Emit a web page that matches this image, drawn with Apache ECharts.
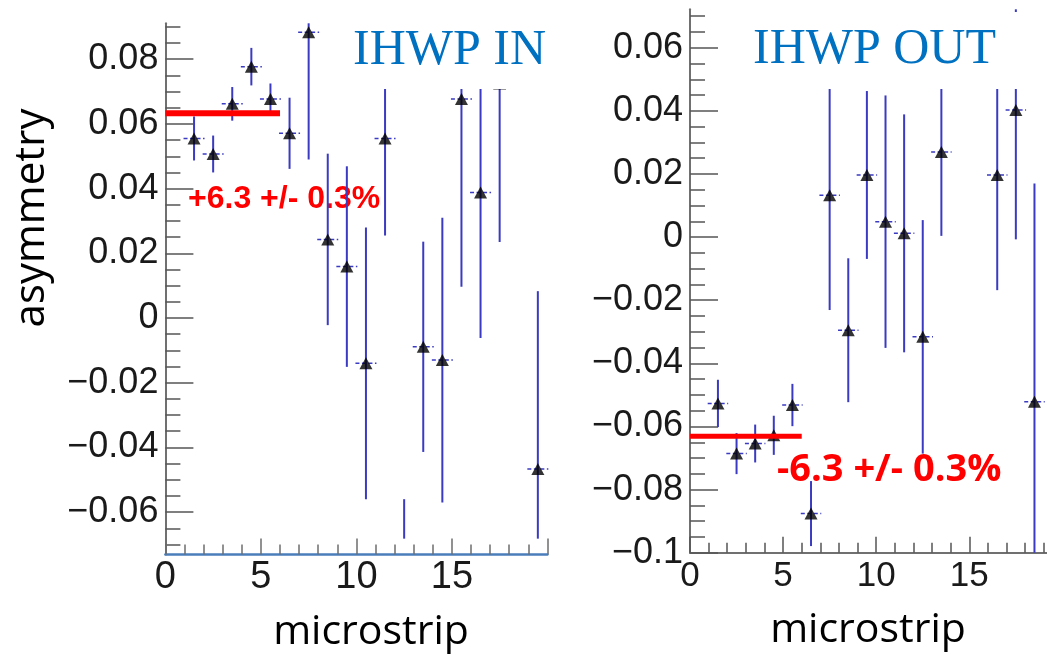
<!DOCTYPE html>
<html>
<head>
<meta charset="utf-8">
<script src="https://cdn.jsdelivr.net/npm/echarts@6/dist/echarts.min.js"></script>
<style>
  html, body { margin: 0; background: #fff; }
  #chart { width: 1047px; height: 656px; }
</style>
</head>
<body>
<div id="chart"></div>
<script>
// IHWP IN panel: microstrip bin centre, asymmetry, error
const inX   = [1.5, 2.5, 3.5, 4.5, 5.5, 6.5, 7.5, 8.5, 9.5, 10.5, 11.5, 12.5, 13.5, 14.5, 15.5, 16.5, 17.5, 19.5];
const inY   = [0.0555, 0.0507, 0.0662, 0.0777, 0.0677, 0.0571, 0.0883, 0.0243, 0.0159, -0.014, 0.0555, -0.092, -0.0089, -0.013, 0.0677, 0.0388, 0.0725, -0.0467];
const inErr = [0.0068, 0.0057, 0.0052, 0.0058, 0.0048, 0.011, 0.0393, 0.0265, 0.031, 0.042, 0.030, 0.036, 0.0325, 0.044, 0.058, 0.045, 0.049, 0.055];

// IHWP OUT panel
const outX   = [1.5, 2.5, 3.5, 4.5, 5.5, 6.5, 7.5, 8.5, 9.5, 10.5, 11.5, 12.5, 13.5, 16.5, 17.5, 18.5];
const outY   = [-0.0527, -0.0686, -0.0654, -0.0628, -0.0532, -0.0876, 0.0133, -0.0295, 0.0197, 0.0049, 0.0012, -0.0316, 0.027, 0.0197, 0.0403, -0.0522];
const outErr = [0.0075, 0.0065, 0.006, 0.0062, 0.0067, 0.0103, 0.0364, 0.0228, 0.0266, 0.040, 0.0377, 0.037, 0.0266, 0.0365, 0.041, 0.0692];

// fitted averages over strips 0..6
const fitIn  = 0.0633;
const fitOut = -0.0631;
const fitRange = [0, 6];

const inTicks  = [-0.06, -0.04, -0.02, 0, 0.02, 0.04, 0.06, 0.08];
const outTicks = [-0.1, -0.08, -0.06, -0.04, -0.02, 0, 0.02, 0.04, 0.06];
const stripTicks = [0, 5, 10, 15];

const BAR = '#3a3ac2';
const FONT = '"Liberation Sans", Arial, sans-serif';

function fmtY(v) {
  const r = Math.round(v * 1000) / 1000;
  if (r === 0) return '0';
  return (r < 0 ? '\u2212' : '') + String(Math.abs(r));
}

// error bars, cut at the frame (or at a lower limit value for the pasted left frame)
function errBar(lowLimit) {
  return function (params, api) {
    const x = api.value(0), y = api.value(1), e = api.value(2);
    const cs = params.coordSys;
    const top = cs.y;
    const bot = lowLimit == null ? cs.y + cs.height : api.coord([x, lowLimit])[1];
    const p1 = api.coord([x, y + e]), p2 = api.coord([x, y - e]);
    const y1 = Math.max(p1[1], top), y2 = Math.min(p2[1], bot);
    const children = [];
    if (y2 > y1) {
      children.push({ type: 'line', shape: { x1: p1[0], y1: y1, x2: p1[0], y2: y2 },
        style: { stroke: BAR, lineWidth: 2 } });
    }
    const c = api.coord([x, y]);
    if (c[1] >= top && c[1] <= bot) {
      const l = api.coord([x - 0.55, y]), r = api.coord([x + 0.55, y]);
      children.push({ type: 'line', shape: { x1: l[0], y1: c[1], x2: r[0], y2: c[1] },
        style: { stroke: BAR, lineWidth: 1.5, lineDash: [4, 2.5] } });
    }
    return { type: 'group', children: children };
  };
}

function yAxisOpt(grid, min, max, ticks) {
  return {
    gridIndex: grid, type: 'value', min: min, max: max,
    splitNumber: 8, minInterval: 0.02, maxInterval: 0.02,
    axisLine: { show: true, onZero: false, lineStyle: { color: '#707070', width: 2 } },
    axisTick: { inside: true, length: 28, customValues: ticks, lineStyle: { color: '#555', width: 1.5 } },
    minorTick: { show: true, splitNumber: 4, length: 15, lineStyle: { color: '#555', width: 1.5 } },
    axisLabel: { customValues: ticks, formatter: fmtY, fontSize: 36, fontFamily: FONT, color: '#1a1a1a', margin: 7 },
    splitLine: { show: false },
  };
}

function xAxisOpt(grid, tickColor, lineColor, lineWidth, fontSize, margin, len) {
  return {
    gridIndex: grid, type: 'value', min: 0, max: 20, interval: 5,
    axisLine: { show: true, onZero: false, lineStyle: { color: lineColor, width: lineWidth } },
    axisTick: { show: true, inside: true, length: len, lineStyle: { color: tickColor, width: 1.5 } },
    minorTick: { show: true, splitNumber: 5, length: Math.round(len * 0.6), lineStyle: { color: tickColor, width: 1.5 } },
    axisLabel: { fontSize: fontSize, fontFamily: FONT, color: '#1a1a1a', margin: margin, customValues: stripTicks },
    splitLine: { show: false },
  };
}

const chart = echarts.init(document.getElementById('chart'), null, { renderer: 'canvas' });

chart.setOption({
  animation: false,
  backgroundColor: '#fff',
  grid: [
    { left: 165.4, top: 23.3, width: 382, height: 531.2, outerBoundsMode: 'none' },
    { left: 690, top: 9.3, width: 372.4, height: 543.4, outerBoundsMode: 'none' },
  ],
  xAxis: [
    xAxisOpt(0, '#6e6e6e', '#4a7ebb', 2.5, 38, 4, 16),
    xAxisOpt(1, '#555', '#707070', 2, 35, 6, 16),
  ],
  yAxis: [
    yAxisOpt(0, -0.0731, 0.0911, inTicks),
    yAxisOpt(1, -0.1, 0.0722, outTicks),
  ],
  series: [
    { type: 'custom', xAxisIndex: 0, yAxisIndex: 0, renderItem: errBar(-0.0682), z: 2, silent: true,
      data: inX.map((x, i) => [x, inY[i], inErr[i]]) },
    { type: 'custom', xAxisIndex: 1, yAxisIndex: 1, renderItem: errBar(null), z: 2, silent: true,
      data: outX.map((x, i) => [x, outY[i], outErr[i]]) },
    { type: 'scatter', xAxisIndex: 0, yAxisIndex: 0, symbol: 'triangle', symbolSize: [13, 12], z: 3,
      itemStyle: { color: '#000' }, clip: true, silent: true,
      data: inX.map((x, i) => [x, inY[i]]) },
    { type: 'scatter', xAxisIndex: 1, yAxisIndex: 1, symbol: 'triangle', symbolSize: [13, 12], z: 3,
      itemStyle: { color: '#000' }, clip: true, silent: true,
      data: outX.map((x, i) => [x, outY[i]]) },
    { type: 'line', xAxisIndex: 0, yAxisIndex: 0, symbol: 'none', z: 4, silent: true,
      lineStyle: { color: '#ff0000', width: 6 },
      data: fitRange.map(x => [x, fitIn]) },
    { type: 'line', xAxisIndex: 1, yAxisIndex: 1, symbol: 'none', z: 4, silent: true,
      lineStyle: { color: '#ff0000', width: 5 },
      data: fitRange.map(x => [x, fitOut]) },
  ],
  graphic: [
    { type: 'text', x: 188, y: 199, z: 1, silent: true,
      style: { text: '+6.3 +/- 0.3%', font: 'bold 32px "Liberation Sans"', fill: '#ff0000',
        textAlign: 'left', align: 'left', textVerticalAlign: 'middle', verticalAlign: 'middle' } },
    { type: 'text', x: 777, y: 470, z: 1, silent: true,
      style: { text: '-6.3 +/- 0.3%', font: 'bold 38px "Open Sans"', fill: '#ff0000',
        textAlign: 'left', align: 'left', textVerticalAlign: 'middle', verticalAlign: 'middle' } },
    { type: 'rect', z: 100, silent: true, shape: { x: 345, y: 0, width: 215, height: 89 }, style: { fill: '#fff' } },
    { type: 'rect', z: 100, silent: true, shape: { x: 745, y: 12, width: 302, height: 77 }, style: { fill: '#fff' } },
    { type: 'text', x: 353, y: 51, z: 101, silent: true,
      style: { text: 'IHWP IN', font: '50px "Liberation Serif"', fill: '#0070c0',
        textAlign: 'left', align: 'left', textVerticalAlign: 'middle', verticalAlign: 'middle' } },
    { type: 'text', x: 753, y: 50, z: 101, silent: true,
      style: { text: 'IHWP OUT', font: '50px "Liberation Serif"', fill: '#0070c0',
        textAlign: 'left', align: 'left', textVerticalAlign: 'middle', verticalAlign: 'middle' } },
    { type: 'text', x: 32, y: 218, rotation: Math.PI / 2, z: 101, silent: true,
      style: { text: 'asymmetry', font: '42px "Open Sans"', fill: '#000',
        textAlign: 'center', align: 'center', textVerticalAlign: 'middle', verticalAlign: 'middle' } },
    { type: 'text', x: 371, y: 632, z: 101, silent: true,
      style: { text: 'microstrip', font: '41px "Open Sans"', fill: '#000',
        textAlign: 'center', align: 'center', textVerticalAlign: 'middle', verticalAlign: 'middle' } },
    { type: 'text', x: 868, y: 630, z: 101, silent: true,
      style: { text: 'microstrip', font: '41px "Open Sans"', fill: '#000',
        textAlign: 'center', align: 'center', textVerticalAlign: 'middle', verticalAlign: 'middle' } },
  ],
});
</script>
</body>
</html>
